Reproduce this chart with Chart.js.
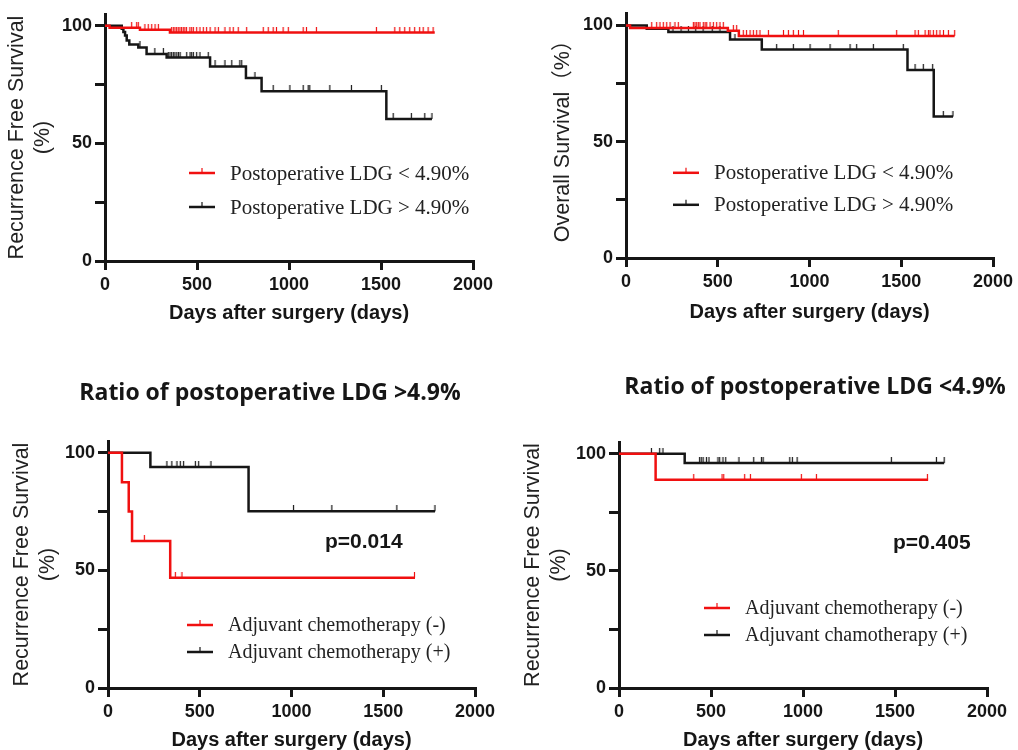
<!DOCTYPE html>
<html>
<head>
<meta charset="utf-8">
<script src="https://cdn.jsdelivr.net/npm/chart.js@4.4.1/dist/chart.umd.min.js"></script>
<style>
  html, body { margin: 0; padding: 0; background: #fff; overflow: hidden; }
  body { width: 1018px; height: 750px; position: relative; }
  canvas { position: absolute; }
</style>
</head>
<body>
<canvas id="kmA" width="505" height="335" style="left:0;top:0"></canvas>
<canvas id="kmB" width="513" height="335" style="left:505px;top:0"></canvas>
<canvas id="kmC" width="505" height="410" style="left:0;top:345px"></canvas>
<canvas id="kmD" width="513" height="410" style="left:505px;top:345px"></canvas>
<script>
// ---- axes ----
var dayTicks = [0, 500, 1000, 1500, 2000];
var pctTicks = [0, 25, 50, 75, 100];
var pctLabels = [0, 50, 100];

// ---- A: recurrence free survival by postoperative LDG ----
var rfsLowDays  = [0, 25, 190, 353, 1792];
var rfsLowPct   = [100, 99.2, 98.3, 97.1, 97.1];
var rfsLowCens  = [145, 172, 181, 217, 235, 254, 272, 290, 362, 371, 380, 389, 398, 407, 416, 425, 434, 443, 461, 471, 480, 498, 516, 534, 552, 571, 598, 616, 652, 679, 697, 724, 770, 860, 887, 914, 932, 968, 996, 1077, 1095, 1149, 1475, 1575, 1602, 1629, 1656, 1683, 1710, 1729, 1756, 1783];
var rfsHighDays = [0, 91, 100, 109, 118, 132, 181, 226, 335, 571, 766, 851, 1529, 1777];
var rfsHighPct  = [100, 98.7, 97.3, 95.9, 93.7, 92.0, 90.8, 88.0, 86.5, 82.7, 77.8, 72.2, 60.4, 60.4];
var rfsHighCens = [190, 271, 317, 344, 353, 362, 371, 380, 390, 399, 408, 444, 462, 471, 480, 498, 516, 561, 598, 652, 689, 733, 743, 815, 914, 1005, 1077, 1104, 1113, 1222, 1339, 1502, 1566, 1665, 1738, 1777];

// ---- B: overall survival by postoperative LDG ----
var osLowDays  = [0, 22, 555, 615, 1791];
var osLowPct   = [100, 98.9, 97.7, 95.5, 95.5];
var osLowCens  = [140, 167, 185, 203, 222, 240, 267, 285, 367, 376, 385, 394, 403, 421, 431, 440, 458, 476, 494, 512, 530, 585, 603, 639, 657, 676, 694, 712, 730, 776, 858, 885, 912, 940, 967, 1157, 1475, 1575, 1593, 1630, 1648, 1657, 1675, 1693, 1711, 1730, 1757, 1791];
var osHighDays = [0, 113, 231, 567, 740, 1534, 1677, 1782];
var osHighPct  = [100, 98.6, 97.2, 93.9, 89.6, 80.8, 60.8, 60.8];
var osHighCens = [256, 300, 340, 380, 420, 470, 512, 594, 821, 912, 1003, 1112, 1221, 1257, 1348, 1511, 1575, 1620, 1671, 1729, 1782];

// ---- C: LDG > 4.9%, RFS by adjuvant chemotherapy ----
var hiNoDays  = [0, 76, 113, 131, 339, 1673];
var hiNoPct   = [100, 87.5, 75.0, 62.5, 46.9, 46.9];
var hiNoCens  = [198, 367, 403, 1670];
var hiYesDays = [0, 231, 766, 1782];
var hiYesPct  = [100, 93.9, 75.1, 75.1];
var hiYesCens = [321, 348, 376, 394, 412, 476, 494, 561, 1011, 1220, 1574, 1782];

// ---- D: LDG < 4.9%, RFS by adjuvant chemotherapy ----
var loNoDays  = [0, 199, 1680];
var loNoPct   = [100, 88.9, 88.9];
var loNoCens  = [406, 560, 569, 683, 714, 991, 1073, 1676];
var loYesDays = [0, 357, 1767];
var loYesPct  = [100, 96.0, 96.0];
var loYesCens = [176, 221, 239, 438, 447, 457, 475, 489, 538, 547, 565, 580, 652, 732, 774, 783, 928, 942, 968, 1480, 1725, 1767];

var SANS = "'Liberation Sans', Arial, 'Noto Sans CJK SC', sans-serif";
var SERIF = "'Liberation Serif', 'Times New Roman', serif";
var INK = '#161616';
var RED = '#f01010';

function survAt(days, pct, t){
  var v = pct[0];
  for(var i = 0; i < days.length; i++){ if(days[i] <= t) v = pct[i]; }
  return v;
}
function pts(xs, ys){ return xs.map(function(x, i){ return {x: x, y: ys[i]}; }); }
function censPts(cens, days, pct){ return cens.map(function(t){ return {x: t, y: survAt(days, pct, t)}; }); }

// censor tick: short vertical mark standing on the curve
function tickMark(color){
  var c = document.createElement('canvas');
  c.width = 3; c.height = 12;
  var g = c.getContext('2d');
  g.strokeStyle = color; g.lineWidth = 1.2;
  g.beginPath(); g.moveTo(1.5, 0); g.lineTo(1.5, 6); g.stroke();
  return c;
}
var redTick = tickMark(RED), blackTick = tickMark(INK);

function curve(label, color, days, pct){
  return { kmCurve: true, label: label, data: pts(days, pct), parsing: false, borderColor: color,
           borderWidth: 2.5, stepped: 'before', pointRadius: 0, fill: false, borderJoinStyle: 'miter' };
}
function censors(img, cens, days, pct){
  return { type: 'scatter', data: censPts(cens, days, pct), parsing: false, pointStyle: img,
           pointRadius: 4, showLine: false };
}

// legend, p value and panel title drawn on top
var kmDecor = {
  id: 'kmDecor',
  afterDraw: function(chart, args, o){
    var ctx = chart.ctx, a = chart.chartArea;
    ctx.save();
    ctx.textBaseline = 'middle';
    if(o.title){
      ctx.font = "bold 23px 'Open Sans', " + SANS;
      ctx.fillStyle = INK; ctx.textAlign = 'center';
      ctx.fillText(o.title.text, o.title.x, o.title.y);
    }
    if(o.pText){
      ctx.font = 'bold 21px ' + SANS;
      ctx.fillStyle = INK; ctx.textAlign = 'left';
      ctx.fillText(o.pText.text, a.left + o.pText.dx, a.top + o.pText.dy);
    }
    var lg = o.legend;
    chart.data.datasets.filter(function(d){ return d.kmCurve; }).forEach(function(d, i){
      var x0 = a.left + lg.dx, y = a.top + lg.dy + i * lg.gap;
      ctx.strokeStyle = d.borderColor;
      ctx.lineWidth = 2.5;
      ctx.beginPath(); ctx.moveTo(x0, y); ctx.lineTo(x0 + 26, y); ctx.stroke();
      ctx.lineWidth = 1.2;
      ctx.beginPath(); ctx.moveTo(x0 + 13, y); ctx.lineTo(x0 + 13, y - 5); ctx.stroke();
      ctx.font = lg.size + 'px ' + SERIF;
      ctx.fillStyle = '#222'; ctx.textAlign = 'left';
      ctx.fillText(d.label, x0 + 41, y + 1);
    });
    ctx.restore();
  }
};

function makePanel(id, box, yTitle, datasets, decor){
  var tickFont = {family: SANS, size: 18, weight: 'bold'};
  new Chart(document.getElementById(id).getContext('2d'), {
    type: 'line',
    data: { datasets: datasets },
    options: {
      responsive: false, animation: false, devicePixelRatio: 1, events: [],
      layout: { padding: { left: 0, top: box.padTop, right: box.padRight, bottom: 0 } },
      plugins: { legend: { display: false }, tooltip: { enabled: false }, kmDecor: decor },
      scales: {
        x: {
          type: 'linear', min: 0, max: 2000,
          afterFit: function(s){ s.height = box.xH; },
          afterBuildTicks: function(s){ s.ticks = dayTicks.map(function(v){ return {value: v}; }); },
          grid: { drawOnChartArea: false, drawTicks: true, tickLength: 9, tickWidth: 3, tickColor: INK, color: INK, lineWidth: 3 },
          border: { display: true, color: INK, width: 3 },
          ticks: { color: INK, font: tickFont, padding: 4, maxRotation: 0, autoSkip: false,
                   callback: function(v){ return String(v); } },
          title: { display: true, text: 'Days after surgery (days)', color: INK,
                   font: {family: SANS, size: 20, weight: 'bold'}, padding: {top: 0, bottom: box.xTitlePad} }
        },
        y: {
          type: 'linear', min: 0, max: 105,
          afterFit: function(s){ s.width = box.yW; },
          afterBuildTicks: function(s){ s.ticks = pctTicks.map(function(v){ return {value: v}; }); },
          grid: { drawOnChartArea: false, drawTicks: true, tickLength: 10, tickWidth: 3, tickColor: INK, color: INK, lineWidth: 3 },
          border: { display: true, color: INK, width: 3 },
          ticks: { color: INK, font: tickFont, padding: 3, autoSkip: false,
                   callback: function(v){ return pctLabels.indexOf(v) >= 0 ? String(v) : ''; } },
          title: { display: true, text: yTitle, color: '#222',
                   font: {family: SANS, size: 21.5, weight: 'normal'}, padding: {top: box.yTitlePad, bottom: 0} }
        }
      }
    },
    plugins: [kmDecor]
  });
}

var rfsTitle = ['Recurrence Free Survival', '(%)'];

makePanel('kmA', {padTop: 14, padRight: 32, yW: 105, xH: 74, yTitlePad: 4, xTitlePad: 10}, rfsTitle, [
  curve('Postoperative LDG < 4.90%', RED, rfsLowDays, rfsLowPct),
  curve('Postoperative LDG > 4.90%', INK, rfsHighDays, rfsHighPct),
  censors(redTick, rfsLowCens, rfsLowDays, rfsLowPct),
  censors(blackTick, rfsHighCens, rfsHighDays, rfsHighPct)
], { legend: {dx: 84, dy: 159, gap: 34, size: 21} });

makePanel('kmB', {padTop: 12, padRight: 25, yW: 121, xH: 77, yTitlePad: 45, xTitlePad: 11}, 'Overall Survival\uff08%\uff09', [
  curve('Postoperative LDG < 4.90%', RED, osLowDays, osLowPct),
  curve('Postoperative LDG > 4.90%', INK, osHighDays, osHighPct),
  censors(redTick, osLowCens, osLowDays, osLowPct),
  censors(blackTick, osHighCens, osHighDays, osHighPct)
], { legend: {dx: 47, dy: 159, gap: 32, size: 21} });

makePanel('kmC', {padTop: 96, padRight: 30, yW: 108, xH: 67, yTitlePad: 9, xTitlePad: 3}, rfsTitle, [
  curve('Adjuvant chemotherapy (-)', RED, hiNoDays, hiNoPct),
  curve('Adjuvant chemotherapy (+)', INK, hiYesDays, hiYesPct),
  censors(redTick, hiNoCens, hiNoDays, hiNoPct),
  censors(blackTick, hiYesCens, hiYesDays, hiYesPct)
], { legend: {dx: 79, dy: 184, gap: 27, size: 20},
     pText: {text: 'p=0.014', dx: 217, dy: 101},
     title: {text: 'Ratio of postoperative LDG >4.9%', x: 270, y: 48} });

makePanel('kmD', {padTop: 97, padRight: 31, yW: 114, xH: 67, yTitlePad: 15, xTitlePad: 3}, rfsTitle, [
  curve('Adjuvant chemotherapy (-)', RED, loNoDays, loNoPct),
  curve('Adjuvant chamotherapy (+)', INK, loYesDays, loYesPct),
  censors(redTick, loNoCens, loNoDays, loNoPct),
  censors(blackTick, loYesCens, loYesDays, loYesPct)
], { legend: {dx: 85, dy: 166, gap: 27, size: 20},
     pText: {text: 'p=0.405', dx: 274, dy: 101},
     title: {text: 'Ratio of postoperative LDG <4.9%', x: 310, y: 42} });
</script>
</body>
</html>
